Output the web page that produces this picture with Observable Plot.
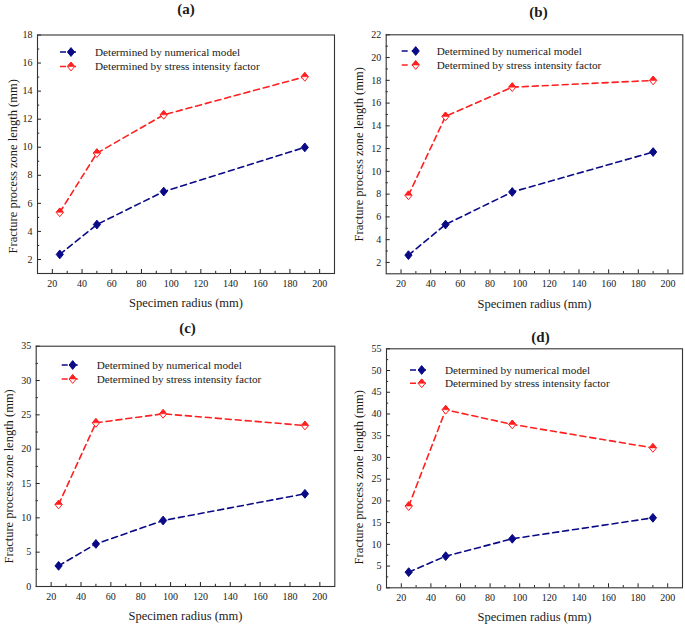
<!DOCTYPE html>
<html><head><meta charset="utf-8">
<script src="https://cdn.jsdelivr.net/npm/d3@7"></script>
<script src="https://cdn.jsdelivr.net/npm/@observablehq/plot@0.6"></script>
<style>
html,body{margin:0;padding:0;background:#fff;}
#wrap{position:relative;width:685px;height:625px;overflow:hidden;background:#fff;}
#wrap svg{position:absolute;}
</style></head><body><div id="wrap"></div>
<script>
// ---- data ----
const radius = [25, 50, 95, 190];
const panelNames = ["(a)", "(b)", "(c)", "(d)"];
const seriesNames = ["Determined by numerical model", "Determined by stress intensity factor"];
const numericalA = [2.36, 4.49, 6.84, 9.99];
const sifA = [5.36, 9.58, 12.31, 15.02];
const numericalB = [2.64, 5.33, 8.19, 11.7];
const sifB = [7.9, 14.83, 17.4, 17.99];
const numericalC = [3.01, 6.2, 9.61, 13.5];
const sifC = [11.94, 23.84, 25.15, 23.45];
const numericalD = [3.6, 7.28, 11.28, 16.1];
const sifD = [18.8, 40.97, 37.6, 32.2];
const xTicks = [20, 40, 60, 80, 100, 120, 140, 160, 180, 200];
const xMinor = [30, 50, 70, 90, 110, 130, 150, 170, 190];
const yTicksA = [2, 4, 6, 8, 10, 12, 14, 16, 18];
const yMinorA = [3, 5, 7, 9, 11, 13, 15, 17];
const yTicksB = [2, 4, 6, 8, 10, 12, 14, 16, 18, 20, 22];
const yMinorB = [3, 5, 7, 9, 11, 13, 15, 17, 19, 21];
const yTicksC = [0, 5, 10, 15, 20, 25, 30, 35];
const yMinorC = [2.5, 7.5, 12.5, 17.5, 22.5, 27.5, 32.5];
const yTicksD = [0, 5, 10, 15, 20, 25, 30, 35, 40, 45, 50, 55];
const yMinorD = [2.5, 7.5, 12.5, 17.5, 22.5, 27.5, 32.5, 37.5, 42.5, 47.5, 52.5];
const xLabel = "Specimen radius (mm)";
const yLabel = "Fracture process zone length (mm)";

// ---- style ----
const BLUE = "#0a0a87";
const RED = "#ff1f1f";
const FONT = "'Liberation Serif','Times New Roman',serif";
const INK = "#1a1a1a";

const diamond = {draw(ctx, size) {
  const h = Math.sqrt(size / Math.PI);
  ctx.moveTo(0, -h * 1.22); ctx.lineTo(h, 0); ctx.lineTo(0, h * 1.22); ctx.lineTo(-h, 0); ctx.closePath();
}};
const topHalf = {draw(ctx, size) {
  const h = Math.sqrt(size / Math.PI);
  ctx.moveTo(0, -h * 1.22); ctx.lineTo(h, 0); ctx.lineTo(-h, 0); ctx.closePath();
}};
const MR = 3.6;

const panels = [
  {name: panelNames[0], num: numericalA, sif: sifA, yDomain: [1, 18], yTicks: yTicksA, yMinor: yMinorA,
   ox: 0, oy: 0, W: 340, H: 310, mL: 37, mR: 6, mT: 34.5, mB: 37,
   tdx: 0, tdy: -26, xlDy: 29, ylDx: -25, ylDy: 12,
   leg: {line: [23, 41], mk: 34, text: 58, rows: [17.5, 32]}},
  {name: panelNames[1], num: numericalB, sif: sifB, yDomain: [1, 22], yTicks: yTicksB, yMinor: yMinorB,
   ox: 340, oy: 0, W: 345, H: 310, mL: 45.7, mR: 2.7, mT: 34.3, mB: 36.7,
   tdx: 4, tdy: -23, xlDy: 30.5, ylDx: -27, ylDy: 0,
   leg: {line: [16, 34], mk: 30, text: 51, rows: [16.7, 30.7]}},
  {name: panelNames[2], num: numericalC, sif: sifC, yDomain: [0, 35], yTicks: yTicksC, yMinor: yMinorC,
   ox: 0, oy: 310, W: 340, H: 315, mL: 35.7, mR: 5.7, mT: 35.7, mB: 39,
   tdx: 2, tdy: -18, xlDy: 29, ylDx: -27, ylDy: 10,
   leg: {line: [26, 44], mk: 37, text: 61, rows: [19.3, 33.3]}},
  {name: panelNames[3], num: numericalD, sif: sifD, yDomain: [0, 55], yTicks: yTicksD, yMinor: yMinorD,
   ox: 340, oy: 310, W: 345, H: 315, mL: 46, mR: 3, mT: 38.3, mB: 37.7,
   tdx: 6, tdy: -12, xlDy: 29, ylDx: -28, ylDy: 9,
   leg: {line: [24, 41], mk: 35.7, text: 59, rows: [21.7, 35]}}
];

function legendMark(leg) {
  return (index, scales, values, dims) => {
    const g = d3.create("svg:g");
    const x0 = dims.marginLeft, y0 = dims.marginTop;
    const colors = [BLUE, RED];
    seriesNames.forEach((s, i) => {
      const y = y0 + leg.rows[i];
      g.append("line")
        .attr("x1", x0 + leg.line[0]).attr("x2", x0 + leg.line[1])
        .attr("y1", y).attr("y2", y)
        .attr("stroke", colors[i]).attr("stroke-width", 1.6)
        .attr("stroke-dasharray", "6,4");
      const cx = x0 + leg.mk;
      if (i === 0) {
        g.append("path").attr("d", d3.symbol(diamond, Math.PI * MR * MR)())
          .attr("transform", `translate(${cx},${y})`).attr("fill", BLUE).attr("stroke", BLUE);
      } else {
        g.append("path").attr("d", d3.symbol(diamond, Math.PI * MR * MR)())
          .attr("transform", `translate(${cx},${y})`).attr("fill", "white").attr("stroke", RED);
        g.append("path").attr("d", d3.symbol(topHalf, Math.PI * MR * MR)())
          .attr("transform", `translate(${cx},${y})`).attr("fill", RED).attr("stroke", RED).attr("stroke-width", 0.6);
      }
      g.append("text").attr("x", x0 + leg.text).attr("y", y).attr("dy", "0.35em")
        .attr("text-anchor", "start")
        .attr("font-size", 11.2).attr("font-family", FONT).attr("fill", INK).text(s);
    });
    return g.node();
  };
}

const wrap = document.getElementById("wrap");
for (const p of panels) {
  const numRows = radius.map((r, i) => ({r, v: p.num[i], s: seriesNames[0]}));
  const sifRows = radius.map((r, i) => ({r, v: p.sif[i], s: seriesNames[1]}));
  const fw = p.W - p.mL - p.mR, fh = p.H - p.mT - p.mB;
  const chart = Plot.plot({
    width: p.W, height: p.H,
    marginLeft: p.mL, marginRight: p.mR, marginTop: p.mT, marginBottom: p.mB,
    style: {fontFamily: FONT, fontSize: "10px", color: INK, background: "transparent", overflow: "visible"},
    x: {domain: [10, 210]},
    y: {domain: p.yDomain},
    marks: [
      Plot.axisX({ticks: xTicks, tickSize: 0, tickPadding: 6, label: null, fontSize: 10}),
      Plot.axisY({ticks: p.yTicks, tickSize: 0, tickPadding: 5, label: null, fontSize: 10}),
      Plot.tickX(xTicks, {x: d => d, insetTop: fh - 4, stroke: "#222"}),
      Plot.tickX(xMinor, {x: d => d, insetTop: fh - 2.2, stroke: "#222"}),
      Plot.tickY(p.yTicks, {y: d => d, insetRight: fw - 4, stroke: "#222"}),
      Plot.tickY(p.yMinor, {y: d => d, insetRight: fw - 2.2, stroke: "#222"}),
      Plot.frame({stroke: "#333", strokeWidth: 1.1}),
      Plot.line(numRows, {x: "r", y: "v", stroke: BLUE, strokeWidth: 1.6, strokeDasharray: "6,4"}),
      Plot.line(sifRows, {x: "r", y: "v", stroke: RED, strokeWidth: 1.6, strokeDasharray: "6,4"}),
      Plot.dot(numRows, {x: "r", y: "v", symbol: diamond, r: MR, fill: BLUE, stroke: BLUE, strokeWidth: 1}),
      Plot.dot(sifRows, {x: "r", y: "v", symbol: diamond, r: MR, fill: "white", stroke: RED, strokeWidth: 1}),
      Plot.dot(sifRows, {x: "r", y: "v", symbol: topHalf, r: MR, fill: RED, stroke: RED, strokeWidth: 0.6}),
      legendMark(p.leg),
      Plot.text([p.name], {text: d => d, frameAnchor: "top", textAnchor: "middle", lineAnchor: "middle", dx: p.tdx, dy: p.tdy, fontSize: 15, fontWeight: "bold", fill: INK}),
      Plot.text([xLabel], {text: d => d, frameAnchor: "bottom", textAnchor: "middle", lineAnchor: "middle", dy: p.xlDy, fontSize: 12.5, fill: INK}),
      Plot.text([yLabel], {text: d => d, frameAnchor: "left", textAnchor: "middle", lineAnchor: "middle", dx: p.ylDx, dy: p.ylDy, rotate: -90, fontSize: 12.5, fill: INK})
    ]
  });
  chart.style.left = p.ox + "px";
  chart.style.top = p.oy + "px";
  wrap.appendChild(chart);
}
</script></body></html>
